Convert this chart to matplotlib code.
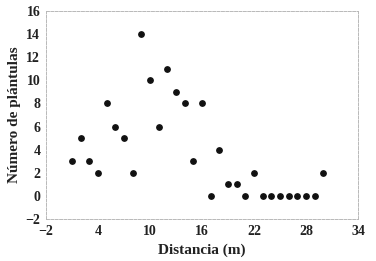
import matplotlib.pyplot as plt

# === DATA ===
distancia = [1, 2, 3, 4, 5, 6, 7, 8, 9, 10, 11, 12, 13, 14, 15,
             16, 17, 18, 19, 20, 21, 22, 23, 24, 25, 26, 27, 28, 29, 30]
plantulas = [3, 5, 3, 2, 8, 6, 5, 2, 14, 10, 6, 11, 9, 8, 3,
             8, 0, 4, 1, 1, 0, 2, 0, 0, 0, 0, 0, 0, 0, 2]
x_ticks = [-2, 4, 10, 16, 22, 28, 34]
y_ticks = [-2, 0, 2, 4, 6, 8, 10, 12, 14, 16]

plt.rcParams["font.family"] = ["Liberation Serif", "DejaVu Serif"]
plt.rcParams["font.weight"] = "bold"

fig = plt.figure(figsize=(3.76, 2.61), dpi=100)
ax = fig.add_axes([0.122, 0.161, 0.830, 0.797])

ax.scatter(distancia, plantulas, s=15, color="#111111", zorder=3)

ax.set_xlim(-2, 34)
ax.set_ylim(-2, 16)
ax.set_xticks(x_ticks)
ax.set_yticks(y_ticks)
ax.tick_params(length=0, labelsize=10, pad=4, colors="#222222")

for side, sp in ax.spines.items():
    sp.set_color("#b8b8b8")
    sp.set_linewidth(0.7)
    sp.set_linestyle((0, (3, 1.5)))

ax.set_xlabel("Distancia (m)", fontsize=11, fontweight="bold", color="#222222", labelpad=4)
ax.set_ylabel("Número de plántulas", fontsize=11, fontweight="bold", color="#222222", labelpad=3)

plt.savefig("out.png", dpi=100)
